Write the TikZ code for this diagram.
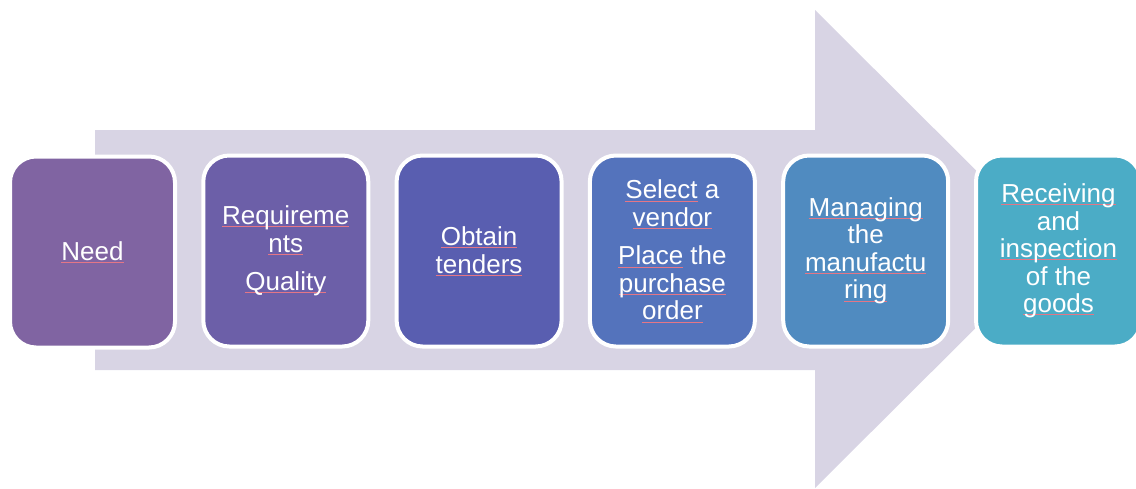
\documentclass[tikz,border=0pt]{standalone}
\usepackage{fontspec}
\setmainfont{Liberation Sans}
\usepackage{xcolor}
\definecolor{arrowbg}{RGB}{216,212,228}
\definecolor{stepA}{RGB}{128,100,162}
\definecolor{stepB}{RGB}{108,95,168}
\definecolor{stepC}{RGB}{89,94,176}
\definecolor{stepD}{RGB}{84,115,188}
\definecolor{stepE}{RGB}{80,139,192}
\definecolor{stepF}{RGB}{75,172,198}
\definecolor{squig}{RGB}{228,118,134}
% thin red line under a word
\newsavebox\sqbox
\newcommand\sq[1]{\sbox\sqbox{#1}\rlap{\textcolor{squig}{\rule[-2.2pt]{\wd\sqbox}{0.5pt}}}\usebox\sqbox}
\tikzset{
  stagebox/.style={draw=white, line width=4pt, rounded corners=26pt,
    minimum width=165pt, minimum height=191pt, inner sep=0pt,
    text=white, align=center, font=\fontsize{26}{27.5}\selectfont},
}
\begin{document}
\begin{tikzpicture}[x=1pt,y=-1pt]
\useasboundingbox (0,0) rectangle (1136,488);
% background block arrow
\fill[arrowbg] (95,130) -- (815,130) -- (815,10) -- (1055,249) -- (815,488)
  -- (815,370) -- (95,370) -- cycle;
% process stages
\node[stagebox, fill=stepA] (n1) at (92.5,252) {\sq{Need}};
\node[stagebox, fill=stepB] (n2) at (285.8,251) {\sq{Requireme}\\\sq{nts}\\[11pt]\sq{Quality}};
\node[stagebox, fill=stepC] (n3) at (479.1,251) {\sq{Obtain}\\\sq{tenders}};
\node[stagebox, fill=stepD] (n4) at (672.4,251) {\sq{Select} a\\\sq{vendor}\\[11pt]\sq{Place} the\\\sq{purchase}\\\sq{order}};
\node[stagebox, fill=stepE] (n5) at (865.7,251) {\sq{Managing}\\the\\\sq{manufactu}\\\sq{ring}};
\node[stagebox, fill=stepF] (n6) at (1058.5,251) {\sq{Receiving}\\and\\\sq{inspection}\\of the\\\sq{goods}};
\end{tikzpicture}
\end{document}
